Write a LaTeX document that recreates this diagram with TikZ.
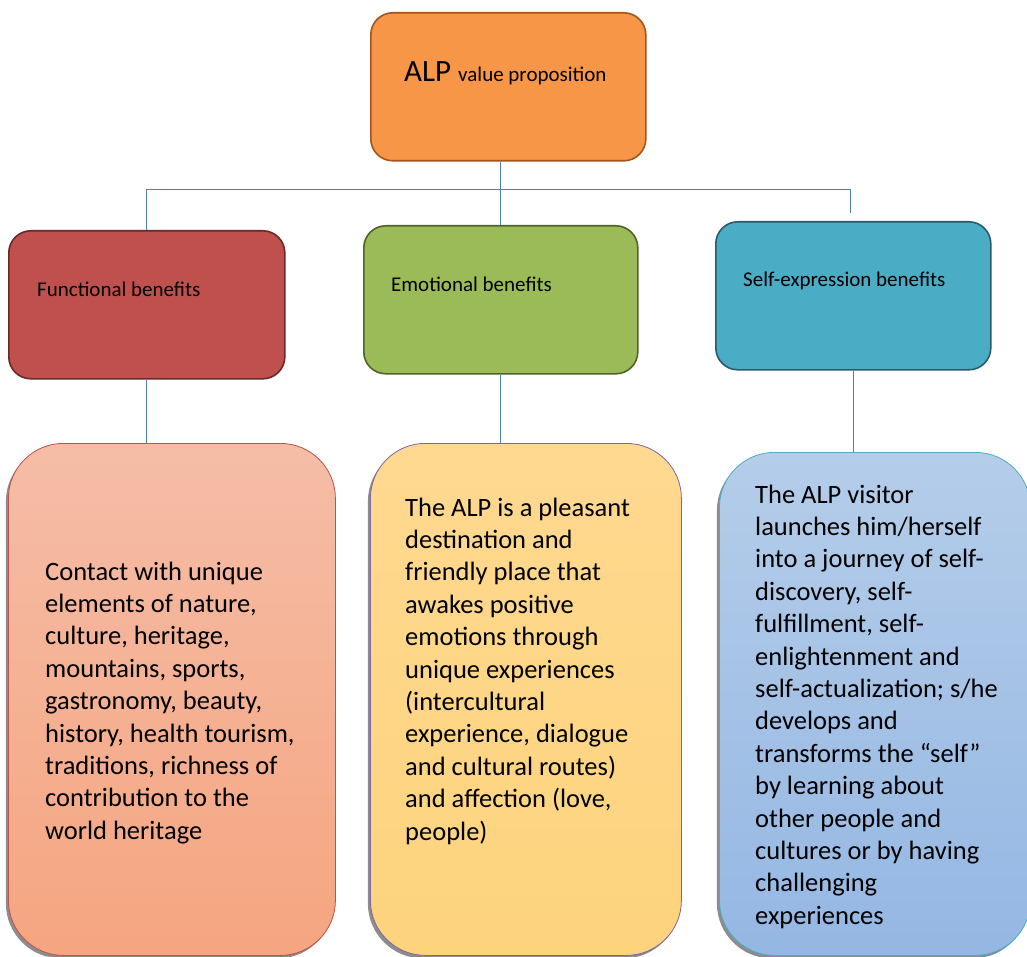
\documentclass[tikz,border=0pt]{standalone}
\usepackage{fontspec}
\setmainfont{Carlito}
\usetikzlibrary{shadows}
\definecolor{orangeF}{HTML}{F79646}
\definecolor{orangeD}{HTML}{A0561C}
\definecolor{redF}{HTML}{C0504D}
\definecolor{redD}{HTML}{672A28}
\definecolor{greenF}{HTML}{9BBB59}
\definecolor{greenD}{HTML}{4F6228}
\definecolor{blueF}{HTML}{4BACC6}
\definecolor{blueD}{HTML}{2B5A6B}
\definecolor{salmonT}{HTML}{F5BDA7}
\definecolor{salmonB}{HTML}{F5A580}
\definecolor{yellowT}{HTML}{FFD991}
\definecolor{yellowB}{HTML}{FDD37C}
\definecolor{purpleD}{HTML}{8064A2}
\definecolor{lblueT}{HTML}{B5CDE9}
\definecolor{lblueB}{HTML}{94B7E3}
\definecolor{connblue}{HTML}{4F81BD}
\begin{document}
\begin{tikzpicture}[x=1pt,y=-1pt,
  hbox/.style={draw, line width=1.6pt, rounded corners=22pt, anchor=north west, inner sep=0pt},
  dbox/.style={draw, line width=0.8pt, rounded corners=55pt, anchor=north west, inner sep=0pt,
    drop shadow={shadow xshift=-2.5pt, shadow yshift=-3pt, fill=black!45, opacity=1}},
  conn/.style={draw=connblue, line width=1pt},
  lbl/.style={anchor=base west, inner sep=0pt, font=\fontsize{21}{25}\selectfont},
  body/.style={anchor=base west, inner sep=0pt, align=left, font=\fontsize{26.5}{32.4}\selectfont}]
\useasboundingbox (0,0) rectangle (1027,957);
\clip (0,0) rectangle (1027,957);

% header boxes
\node[hbox, fill=orangeF, draw=orangeD, minimum width=275pt, minimum height=148pt] (top) at (370,12) {};
\node[hbox, fill=redF, draw=redD, minimum width=276pt, minimum height=148pt] (fun) at (8,230) {};
\node[hbox, fill=greenF, draw=greenD, minimum width=274pt, minimum height=148pt] (emo) at (363,225) {};
\node[hbox, fill=blueF, draw=blueD, minimum width=275pt, minimum height=148pt] (self) at (715,221) {};

% detail boxes
\node[dbox, top color=salmonT, bottom color=salmonB, draw=redF, minimum width=327pt, minimum height=512pt] (bfun) at (8,443) {};
\node[dbox, top color=yellowT, bottom color=yellowB, draw=purpleD, minimum width=311pt, minimum height=512pt] (bemo) at (370,443) {};
\node[dbox, top color=lblueT, bottom color=lblueB, draw=blueF, minimum width=311pt, minimum height=503pt] (bself) at (719,452) {};

% connectors
\coordinate (bar) at (500,190);
\coordinate (selfend) at (850,213);
\draw[conn] (emo.north) -- (emo.north |- top.south);
\draw[conn] (fun.north) -- (fun.north |- bar) -- (selfend |- bar) -- (selfend);
\draw[conn] (fun.south) -- (fun.south |- bfun.north);
\draw[conn] (emo.south) -- (emo.south |- bemo.north);
\draw[conn] (self.south) -- (self.south |- bself.north);

% labels
\node[anchor=base west, inner sep=0pt] (ttop) at (404,82) {{\fontsize{31}{36}\selectfont ALP}\hspace{7pt}{\fontsize{21}{25}\selectfont value proposition}};
\node[lbl] (tfun) at (37,297) {Functional benefits};
\node[lbl] (temo) at (391,291) {Emotional benefits};
\node[lbl] (tself) at (743,287) {Self-expression benefits};

% body texts (base anchor = baseline of the last line)
\node[body] (txfun) at (45,839.2) {Contact with unique\\elements of nature,\\culture, heritage,\\mountains, sports,\\gastronomy, beauty,\\history, health tourism,\\traditions, richness of\\contribution to the\\world heritage};
\node[body] (txemo) at (405,840) {The ALP is a pleasant\\destination and\\friendly place that\\awakes positive\\emotions through\\unique experiences\\(intercultural\\experience, dialogue\\and cultural routes)\\and affection (love,\\people)};
\node[body] (txself) at (755,924.2) {The ALP visitor\\launches him/herself\\into a journey of self-\\discovery, self-\\fulfillment, self-\\enlightenment and\\self-actualization; s/he\\develops and\\transforms the “self”\\by learning about\\other people and\\cultures or by having\\challenging\\experiences};
\end{tikzpicture}
\end{document}
